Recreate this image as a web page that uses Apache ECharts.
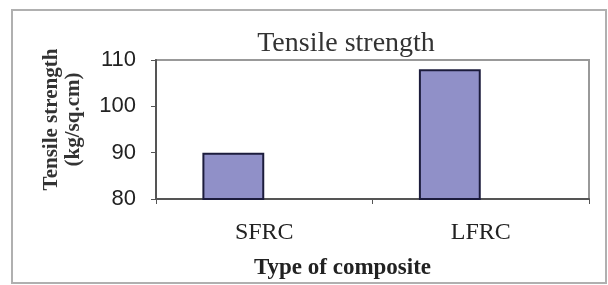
<!DOCTYPE html>
<html>
<head>
<meta charset="utf-8">
<script src="https://cdn.jsdelivr.net/npm/echarts@6/dist/echarts.min.js"></script>
<style>html,body{margin:0;padding:0;background:#fff}#c{width:608px;height:285px}</style>
</head>
<body>
<div id="c"></div>
<script>
const categories = ['SFRC', 'LFRC'];
const tensileStrength = [90, 108];
const emptySeries = [null, null];
const yTicks = [80, 90, 100, 110];

const chart = echarts.init(document.getElementById('c'), null, {renderer: 'canvas'});
chart.setOption({
  animation: false,
  backgroundColor: '#fff',
  graphic: [{
    type: 'rect', silent: true, z: -1,
    shape: {x: 12, y: 10, width: 594, height: 273},
    style: {fill: 'none', stroke: '#b0b0b0', lineWidth: 2}
  }],
  title: {
    text: 'Tensile strength',
    left: 341, top: 25, textAlign: 'center',
    textStyle: {fontFamily: 'Liberation Serif', fontWeight: 'normal', fontSize: 28, color: '#333'}
  },
  grid: {left: 156, right: 19, top: 60, bottom: 81, show: true, borderColor: '#999', borderWidth: 2},
  xAxis: {
    type: 'category', data: categories,
    name: 'Type of composite', nameLocation: 'middle', nameGap: 58,
    nameTextStyle: {fontFamily: 'Liberation Serif', fontWeight: 'bold', fontSize: 23, color: '#222', padding: [0, 60, 0, 0]},
    axisLine: {lineStyle: {color: '#555', width: 2}},
    axisTick: {show: true, length: 5, lineStyle: {color: '#555'}},
    axisLabel: {fontFamily: 'Liberation Serif', fontSize: 24, color: '#222', margin: 22}
  },
  yAxis: {
    type: 'value', min: yTicks[0], max: yTicks[yTicks.length - 1], interval: 10,
    name: 'Tensile strength\n(kg/sq.cm)', nameLocation: 'middle', nameGap: 71,
    nameTextStyle: {fontFamily: 'Liberation Serif', fontWeight: 'bold', fontSize: 21, lineHeight: 22, color: '#333', padding: [0, 0, 0, 20]},
    axisLine: {show: true, lineStyle: {color: '#555', width: 2}},
    axisTick: {show: true, length: 5, lineStyle: {color: '#555'}},
    splitLine: {show: false},
    axisLabel: {fontFamily: 'Liberation Sans', fontSize: 22, color: '#222', margin: 20}
  },
  series: [
    {type: 'bar', data: tensileStrength, barGap: '0%', barCategoryGap: '42.86%',
     itemStyle: {color: '#9090c8', borderColor: '#1c1c3c', borderWidth: 2}},
    {type: 'bar', data: emptySeries, barGap: '0%', barCategoryGap: '42.86%'}
  ]
});
</script>
</body>
</html>
